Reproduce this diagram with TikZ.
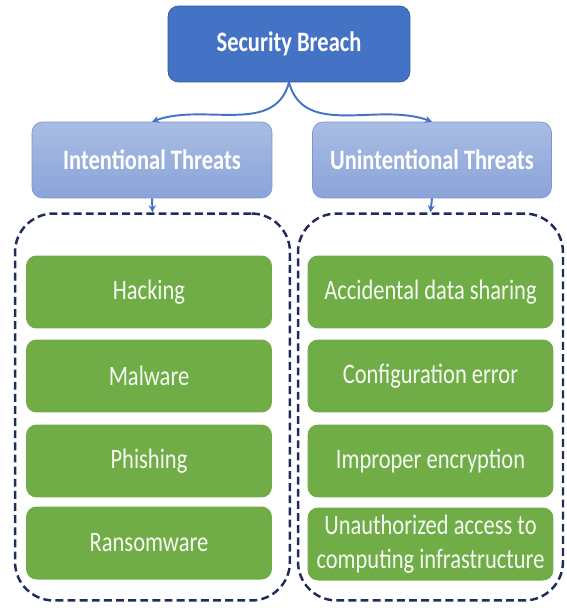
\documentclass[tikz,border=0pt]{standalone}
\usepackage{fontspec}
\setmainfont{Carlito}[FakeStretch=0.8]
\usepackage{tikz}
\usetikzlibrary{arrows.meta}

\definecolor{breachfill}{HTML}{4472C4}
\definecolor{breachline}{HTML}{2F5597}
\definecolor{threattop}{HTML}{A9BCE3}
\definecolor{threatbot}{HTML}{8AA4D8}
\definecolor{threatline}{HTML}{7C97CF}
\definecolor{itemfill}{HTML}{70AD47}
\definecolor{groupline}{HTML}{1F2D5C}

\begin{document}
\begin{tikzpicture}[x=0.02cm,y=0.02cm]
	\useasboundingbox (0,0) rectangle (566,-608);

	% root and the two kinds of threats
	\begin{scope}[every node/.style={rounded corners=6pt,text=white,font=\fontsize{16}{19}\selectfont\bfseries,
	              minimum height=1.52cm}]
	    \node[fill=breachfill,draw=breachline,minimum width=4.84cm] (breach) at (289,-44) {Security Breach};
	    \node[top color=threattop,bottom color=threatbot,draw=threatline,minimum width=4.8cm] (intent) at (152,-160) {Intentional Threats};
	    \node[top color=threattop,bottom color=threatbot,draw=threatline,minimum width=4.78cm] (unintent) at (432,-160) {Unintentional Threats};
	\end{scope}

	% dashed groups
	\begin{scope}[every node/.style={draw=groupline,line width=1.4pt,dash pattern=on 4.5pt off 2.4pt,
	              rounded corners=22pt,minimum height=7.74cm}]
	    \node[minimum width=5.5cm] (intentgroup) at (152.5,-407) {};
	    \node[minimum width=5.3cm] (unintentgroup) at (430.5,-407) {};
	\end{scope}

	% threat items
	\begin{scope}[every node/.style={fill=itemfill,rounded corners=6pt,text=white!94!itemfill,align=center,
	              font=\fontsize{16}{19}\selectfont,minimum width=4.92cm,minimum height=1.46cm,inner sep=1pt}]
	    \node (hacking) at (149,-292) {Hacking};
	    \node (malware) at (149,-376) {Malware};
	    \node (phishing) at (149,-461) {Phishing};
	    \node (ransomware) at (149,-543) {Ransomware};
	    \node (sharing) at (430.5,-292) {Accidental data sharing};
	    \node (config) at (430.5,-376) {Configuration error};
	    \node (encryption) at (430.5,-461) {Improper encryption};
	    \node (access) at (430.5,-544) {Unauthorized access to\\computing infrastructure};
	\end{scope}

	\begin{scope}[>={Stealth[length=4pt,width=4pt]},
	              every edge/.style={draw=breachfill,line width=1.1pt}]
	    \path (breach.south) edge[->,out=-105,in=20] (intent.north);
	    \path (breach.south) edge[->,out=-75,in=160] (unintent.north);
	    \path (intent.south) edge[->] (intentgroup.north);
	    \path (unintent.south) edge[->] (unintentgroup.north);
	\end{scope}
\end{tikzpicture}
\end{document}
